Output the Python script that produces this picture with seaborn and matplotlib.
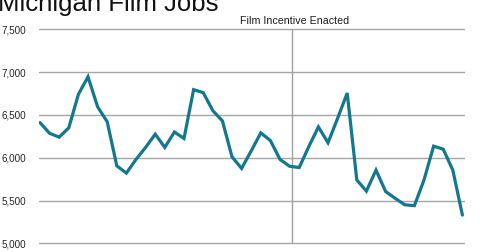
import matplotlib
matplotlib.use("Agg")
import matplotlib.pyplot as plt
import seaborn as sns
import pandas as pd

# Data
month_index = list(range(45))
film_jobs = [6410, 6285, 6240, 6350, 6740, 6945, 6595, 6420, 5905, 5820,
             5980, 6120, 6275, 6120, 6300, 6225, 6795, 6760, 6550, 6430,
             6010, 5875, 6080, 6290, 6200, 5980, 5900, 5885, 6130, 6360,
             6175, 6460, 6755, 5740, 5610, 5855, 5605, 5525, 5450, 5440,
             5740, 6135, 6100, 5855, 5330]
y_ticks = [5000, 5500, 6000, 6500, 7000, 7500]
y_tick_labels = ["5,000", "5,500", "6,000", "6,500", "7,000", "7,500"]
title_text = "Michigan Film Jobs"
event_label = "Film Incentive Enacted"
event_x = 26.2

df = pd.DataFrame({"idx": month_index, "jobs": film_jobs})

sns.set_theme(style="white")
plt.rcParams["font.family"] = ["Liberation Sans", "DejaVu Sans"]

W, H = 480, 252
fig = plt.figure(figsize=(W / 100, H / 100), dpi=100)
ylo, yhi = 4980, 7520
top_px = 29.3 - (yhi - 7500) * 214 / 2500
bot_px = 243.3 + (5000 - ylo) * 214 / 2500
left_px, right_px = 39, 465
ax = fig.add_axes([left_px / W, 1 - bot_px / H, (right_px - left_px) / W, (bot_px - top_px) / H])

for yv in y_ticks:
    ax.axhline(yv, color="#a6a6a6", lw=1.0, zorder=1)
ax.axvline(event_x, ymin=(5000 - ylo) / (yhi - ylo), ymax=(7500 - ylo) / (yhi - ylo),
           color="#a0a0a0", lw=1.0, zorder=1)

sns.lineplot(data=df, x="idx", y="jobs", ax=ax, color="#13788f", lw=2.3,
             zorder=3, solid_joinstyle="miter")

ax.set_xlim(-0.104, 44.27)
ax.set_ylim(ylo, yhi)
ax.set_yticks(y_ticks)
ax.set_yticklabels(y_tick_labels, fontsize=7.1, color="#222222")
ax.tick_params(axis="y", length=0, pad=9.3)
ax.set_xticks([])
ax.set_xlabel("")
ax.set_ylabel("")
for s in ax.spines.values():
    s.set_visible(False)

ax.text(event_x + 0.35, 7600, event_label, ha="center", va="center",
        fontsize=7.7, color="#1a1a1a")

fig.text(-0.004, 1 - 11.5 / H, title_text, ha="left", va="baseline",
         fontsize=18.5, color="#111111")

fig.savefig("out.png", dpi=100)
